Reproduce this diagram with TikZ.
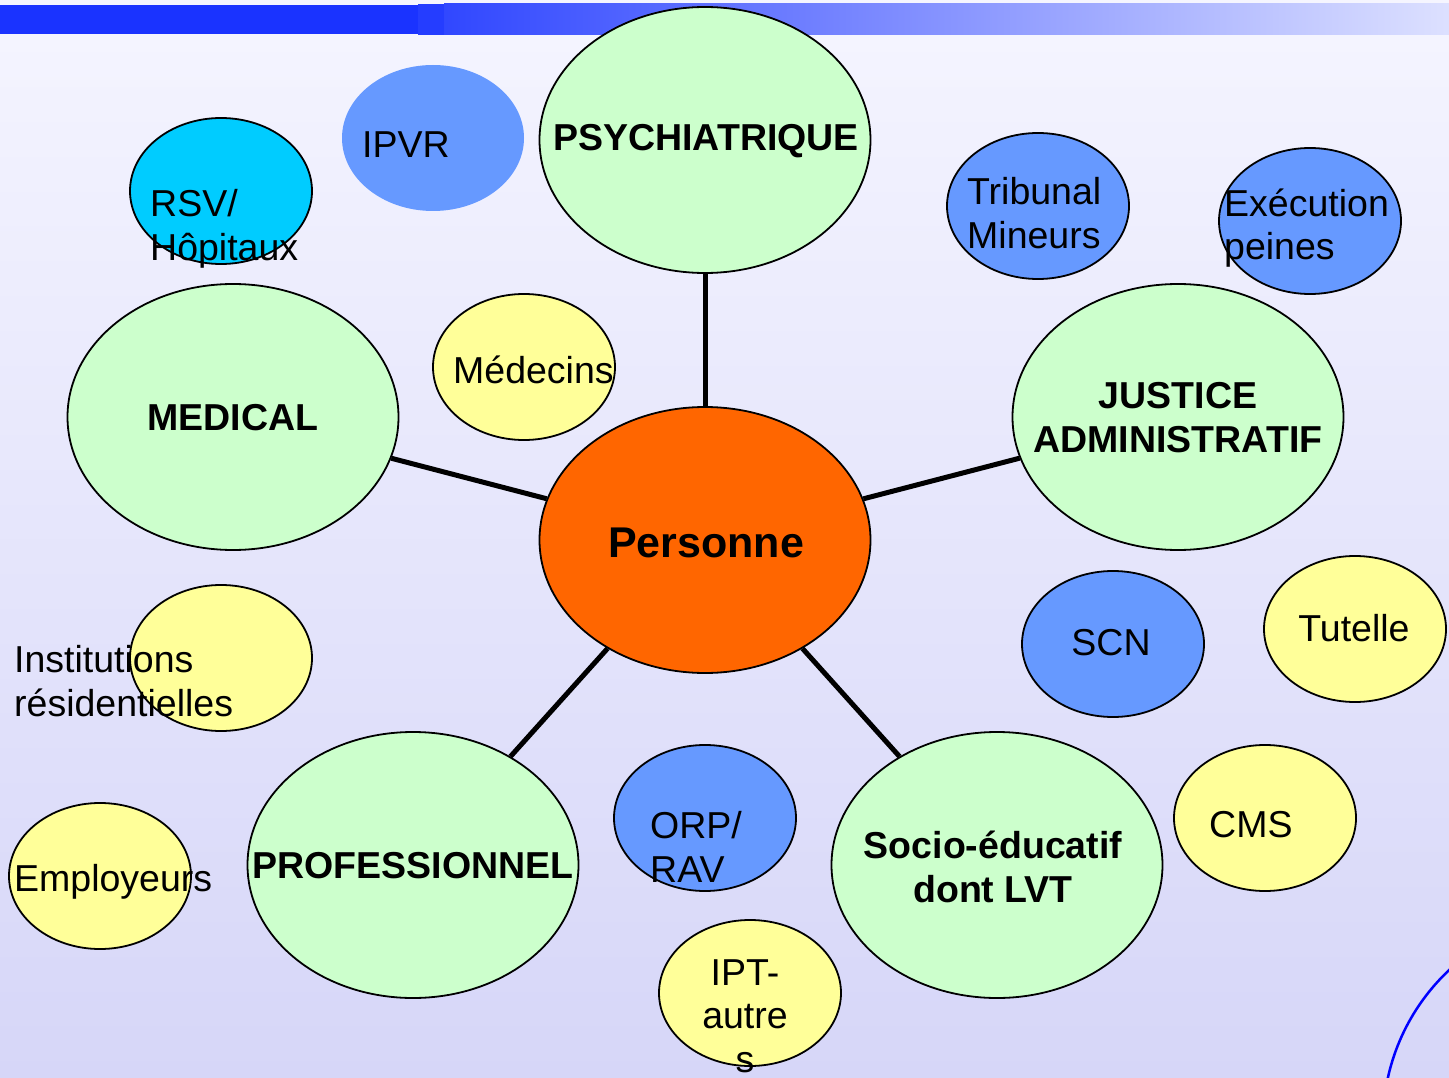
\documentclass[tikz,border=0pt]{standalone}
\usepackage{fontspec}
\setmainfont{Liberation Sans}
\usepackage{xcolor}
\usetikzlibrary{shapes.geometric}

\definecolor{vert}{HTML}{CCFFCC}
\definecolor{orange}{HTML}{FF6600}
\definecolor{bleu}{HTML}{6699FF}
\definecolor{cyan}{HTML}{00CCFF}
\definecolor{jaune}{HTML}{FFFF99}
\definecolor{bandeau}{HTML}{1A33FF}
\definecolor{fondhaut}{HTML}{F5F5FF}
\definecolor{fondbas}{HTML}{D6D6F8}

\tikzset{
  grande/.style={ellipse, draw=black, line width=1.8pt, fill=vert, minimum width=331, minimum height=266, inner sep=0pt},
  bulle/.style={ellipse, draw=black, line width=1.8pt, minimum width=182, minimum height=146, inner sep=0pt},
  titre/.style={inner sep=0pt, align=center, font=\bfseries\fontsize{37.5}{44}\selectfont},
  etiq/.style={inner sep=0pt, align=left, anchor=west, font=\fontsize{37.5}{43.5}\selectfont},
  lien/.style={line width=5pt, black}
}

\begin{document}
\begin{tikzpicture}[x=1pt,y=-1pt]
\useasboundingbox (0,0) rectangle (1449,1078);
\fill[top color=fondhaut, bottom color=fondbas] (0,0) rectangle (1449,1078);
% bandeau du haut
\fill[bandeau] (0,5) rectangle (418,34);
\fill[bandeau!95!white] (418,4) rectangle (444,35);
\shade[left color=bandeau!90!white, right color=bandeau!15!white] (444,4) rectangle (1449,35);
\begin{scope}
  \clip (0,0) rectangle (1449,1078);
  \draw[blue, line width=2.5pt] (1593,1123) circle[radius=210];
\end{scope}

% petites bulles
\foreach \n/\x/\y/\c in {rsv/221/191/cyan, tribunal/1038/206/bleu, execution/1310/221/bleu,
    medecins/524/367/jaune, scn/1113/644/bleu, tutelle/1355/629/jaune, institutions/221/658/jaune,
    employeurs/100/876/jaune, orp/705/818/bleu, cms/1265/818/jaune, ipt/750/993/jaune}
  \node[bulle, fill=\c] (\n) at (\x,\y) {};
\node[bulle, draw=none, fill=bleu] (ipvr) at (433,138) {};

% grandes bulles
\node[grande] (psy) at (705,140) {};
\node[grande] (medical) at (233,417) {};
\node[grande] (justice) at (1178,417) {};
\node[grande] (pro) at (413,865) {};
\node[grande] (socio) at (997,865) {};
\node[grande, fill=orange] (personne) at (705,540) {};

\foreach \n in {psy,medical,justice,pro,socio}
  \draw[lien] (personne) -- (\n);

\node[titre] (tpsy) at (706,141) {PSYCHIATRIQUE};
\node[titre] (tmedical) at (233,418) {MEDICAL};
\node[titre] (tjustice) at (1178,418) {JUSTICE\\ADMINISTRATIF};
\node[titre] (tpro) at (413,866) {PROFESSIONNEL};
\node[titre] (tsocio) at (993,867) {Socio-éducatif\\dont LVT};
\node[titre, font=\bfseries\fontsize{43}{50}\selectfont] (tpersonne) at (706,543) {Personne};

% textes
\node[etiq] (tipvr) at (362,145) {IPVR};
\node[etiq] (trsv) at (150,229) {RSV/\\Hôpitaux};
\node[etiq] (ttribunal) at (967,213) {Tribunal\\Mineurs};
\node[etiq] (texecution) at (1224,228) {Exécution\\peines};
\node[etiq] (tmedecins) at (453,370) {Médecins};
\node[etiq] (tinstitutions) at (14,681) {Institutions\\résidentielles};
\node[etiq] (temployeurs) at (14,882) {Employeurs};
\node[etiq] (torp) at (650,847) {ORP/\\RAV};
\node[etiq] (tcms) at (1209,825) {CMS};
\node[etiq, anchor=center] (tscn) at (1111,643) {SCN};
\node[etiq, anchor=center] (ttutelle) at (1354,628) {Tutelle};
\node[etiq, anchor=center, align=center] (tipt) at (745,1016) {IPT-\\autre\\s};
\end{tikzpicture}
\end{document}
